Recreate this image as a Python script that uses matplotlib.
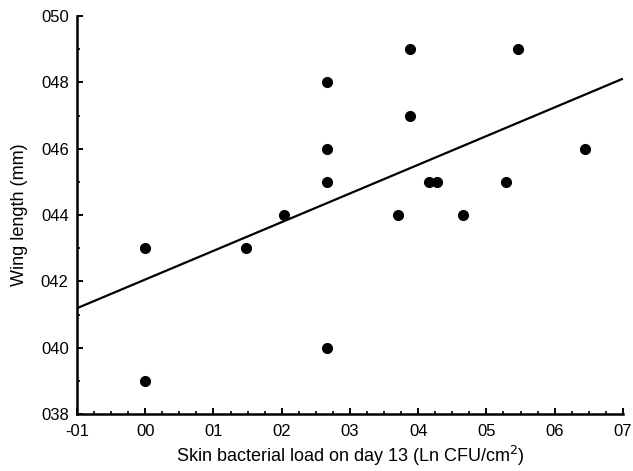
import matplotlib
matplotlib.use("Agg")
import matplotlib.pyplot as plt
from matplotlib.ticker import MultipleLocator, FixedLocator, FixedFormatter

plt.rcParams['font.family'] = ['Liberation Sans', 'DejaVu Sans']

# Data
bacterial_load = [0.0, 0.0, 1.48, 2.03, 2.67, 2.67, 2.67, 2.67, 3.71, 3.88, 3.88,
                  4.16, 4.27, 4.65, 5.28, 5.46, 6.45]
wing_length = [43, 39, 43, 44, 48, 46, 45, 40, 44, 49, 47, 45, 45, 44, 45, 49, 46]

fit_x = [-1, 7]
fit_y = [41.19, 48.11]

x_ticks = [-1, 0, 1, 2, 3, 4, 5, 6, 7]
x_ticklabels = ["-01", "00", "01", "02", "03", "04", "05", "06", "07"]
y_ticks = [38, 40, 42, 44, 46, 48, 50]
y_ticklabels = ["038", "040", "042", "044", "046", "048", "050"]

fig = plt.figure(figsize=(6.33, 4.71), dpi=100)
ax = fig.add_axes([0.1216, 0.121, 0.8624, 0.845])

ax.plot(fit_x, fit_y, color='black', linewidth=1.6, solid_capstyle='butt', clip_on=False, zorder=2)
ax.plot(bacterial_load, wing_length, 'o', color='black', markersize=7, zorder=3)

ax.set_xlim(-1, 7)
ax.set_ylim(38, 50)
ax.xaxis.set_major_locator(FixedLocator(x_ticks))
ax.xaxis.set_major_formatter(FixedFormatter(x_ticklabels))
ax.yaxis.set_major_locator(FixedLocator(y_ticks))
ax.yaxis.set_major_formatter(FixedFormatter(y_ticklabels))
ax.xaxis.set_minor_locator(MultipleLocator(0.25))
ax.yaxis.set_minor_locator(MultipleLocator(1))

for s in ['top', 'right']:
    ax.spines[s].set_visible(False)
for s in ['left', 'bottom']:
    ax.spines[s].set_linewidth(1.8)

ax.tick_params(axis='both', which='major', direction='in', length=4, width=1.4,
               labelsize=12, colors='black')
ax.tick_params(axis='x', which='major', pad=7)
ax.tick_params(axis='y', which='major', pad=6)
ax.tick_params(axis='both', which='minor', direction='in', length=2.5, width=1.2)

ax.set_xlabel("Skin bacterial load on day 13 (Ln CFU/cm$^2$)", fontsize=13, labelpad=4)
ax.set_ylabel("Wing length (mm)", fontsize=13, labelpad=9)

fig.savefig("out.png", dpi=100, facecolor='white')
